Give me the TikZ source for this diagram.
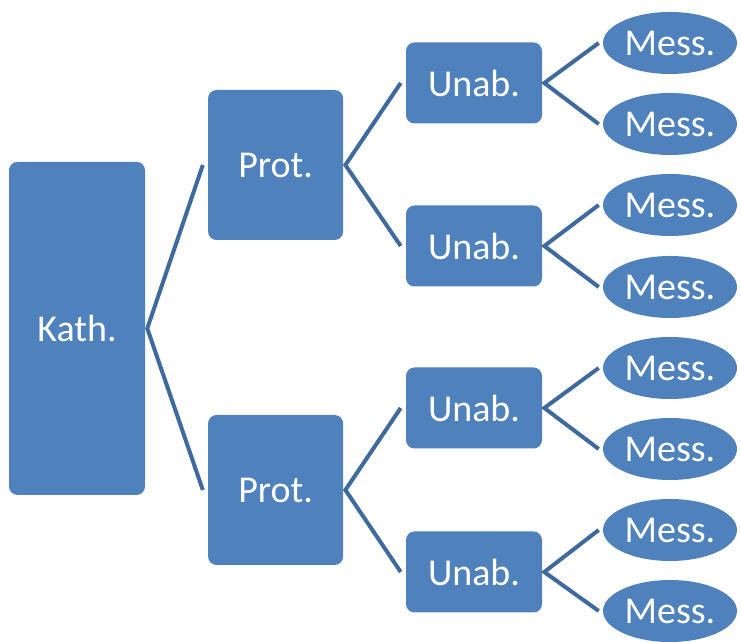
\documentclass[tikz,border=0pt]{standalone}
\usepackage{fontspec}
\setmainfont{Carlito}
\usepackage{xcolor}
\usetikzlibrary{positioning,shapes.geometric}

\definecolor{boxblue}{HTML}{4F81BD}
\definecolor{linkblue}{HTML}{3F6A9E}

\begin{document}
\begin{tikzpicture}[
  font=\fontsize{27}{32}\selectfont,
  rootbox/.style={
    fill=boxblue,
    text=white,
    rounded corners=6pt,
    minimum width=3.4cm,
    minimum height=8.325cm,
    align=center
  },
  branchbox/.style={
    fill=boxblue,
    text=white,
    rounded corners=6pt,
    minimum width=3.375cm,
    minimum height=3.75cm,
    align=center
  },
  twigbox/.style={
    fill=boxblue,
    text=white,
    rounded corners=6pt,
    minimum width=3.4cm,
    minimum height=2.025cm,
    align=center
  },
  leaf/.style={
    ellipse,
    fill=boxblue,
    text=white,
    inner sep=0pt,
    minimum width=3.35cm,
    minimum height=1.55cm
  },
  conn/.style={
    draw=linkblue,
    line width=0.1cm,
    line join=miter
  }
]
\useasboundingbox (0,0) rectangle (18.5,16.05);

%---------------------------------
% Root node
%---------------------------------
\node[rootbox] (kath) at (1.925,7.84) {Kath.};

%---------------------------------
% Second level
%---------------------------------
\node[branchbox] (protA) at (6.89,11.925) {Prot.};
\node[branchbox] (protB) at (6.89,3.8)    {Prot.};

%---------------------------------
% Third level
%---------------------------------
\node[twigbox] (unabA) at (11.85,13.975) {Unab.};
\node[twigbox] (unabB) at (11.85,9.9)    {Unab.};
\node[twigbox] (unabC) at (11.85,5.85)   {Unab.};
\node[twigbox] (unabD) at (11.85,1.75)   {Unab.};

%---------------------------------
% Leaves
%---------------------------------
\node[leaf] (messA) at (16.75,14.975) {Mess.};
\node[leaf] (messB) at (16.75,12.95)  {Mess.};
\node[leaf] (messC) at (16.75,10.925) {Mess.};
\node[leaf] (messD) at (16.75,8.875)  {Mess.};
\node[leaf] (messE) at (16.75,6.85)   {Mess.};
\node[leaf] (messF) at (16.75,4.825)  {Mess.};
\node[leaf] (messG) at (16.75,2.8)    {Mess.};
\node[leaf] (messH) at (16.75,0.775)  {Mess.};

%---------------------------------
% Connections
%---------------------------------
\draw[conn] ([xshift=-0.125cm]protA.west) -- ([xshift=0.05cm]kath.east) -- ([xshift=-0.125cm]protB.west);

\draw[conn] ([xshift=-0.125cm]unabA.west) -- ([xshift=0.05cm]protA.east) -- ([xshift=-0.125cm]unabB.west);
\draw[conn] ([xshift=-0.125cm]unabC.west) -- ([xshift=0.05cm]protB.east) -- ([xshift=-0.125cm]unabD.west);

\draw[conn] ([xshift=-0.1cm]messA.west) -- ([xshift=0.05cm]unabA.east) -- ([xshift=-0.1cm]messB.west);
\draw[conn] ([xshift=-0.1cm]messC.west) -- ([xshift=0.05cm]unabB.east) -- ([xshift=-0.1cm]messD.west);
\draw[conn] ([xshift=-0.1cm]messE.west) -- ([xshift=0.05cm]unabC.east) -- ([xshift=-0.1cm]messF.west);
\draw[conn] ([xshift=-0.1cm]messG.west) -- ([xshift=0.05cm]unabD.east) -- ([xshift=-0.1cm]messH.west);

\end{tikzpicture}
\end{document}
